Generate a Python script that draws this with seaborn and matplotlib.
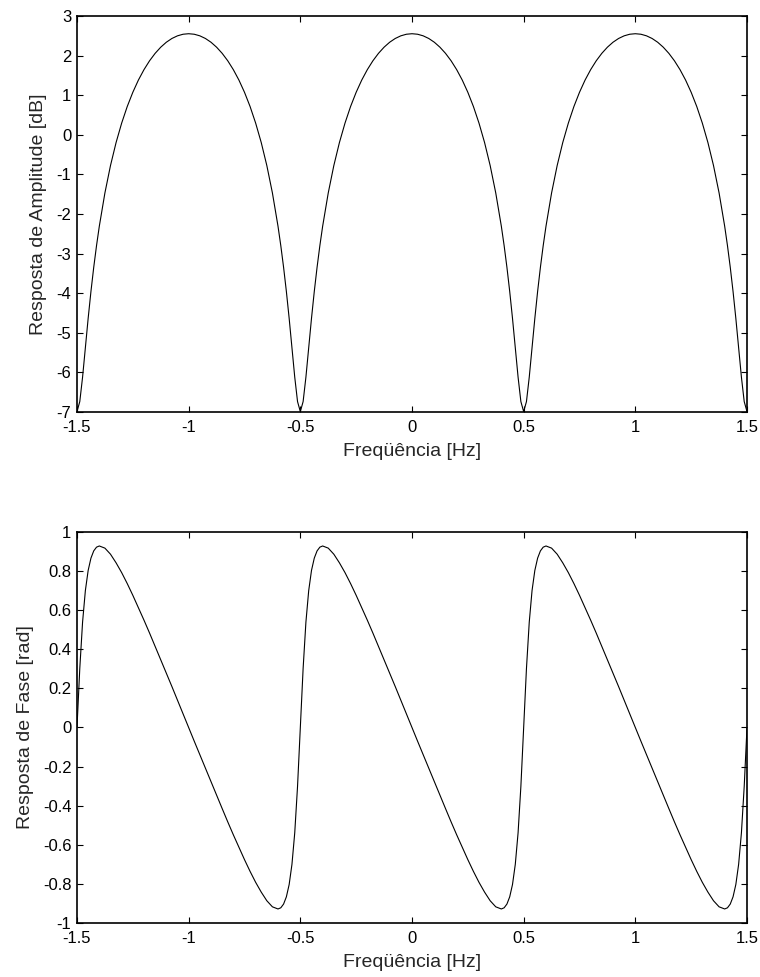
import numpy as np
import pandas as pd
import matplotlib
matplotlib.use("Agg")
import matplotlib.pyplot as plt
import seaborn as sns

# frequency samples read along the x axis (finer near the notches at half-integers)
freq = [
    -1.5, -1.4875, -1.475, -1.4625, -1.45, -1.4375, -1.425, -1.4125, -1.4, -1.375, -1.35, -1.325,
    -1.3, -1.275, -1.25, -1.225, -1.2, -1.175, -1.15, -1.125, -1.1, -1.075, -1.05, -1.025,
    -1.0, -0.975, -0.95, -0.925, -0.9, -0.875, -0.85, -0.825, -0.8, -0.775, -0.75, -0.725,
    -0.7, -0.675, -0.65, -0.625, -0.6, -0.5875, -0.575, -0.5625, -0.55, -0.5375, -0.525, -0.5125,
    -0.5, -0.4875, -0.475, -0.4625, -0.45, -0.4375, -0.425, -0.4125, -0.4, -0.375, -0.35, -0.325,
    -0.3, -0.275, -0.25, -0.225, -0.2, -0.175, -0.15, -0.125, -0.1, -0.075, -0.05, -0.025,
    0.0, 0.025, 0.05, 0.075, 0.1, 0.125, 0.15, 0.175, 0.2, 0.225, 0.25, 0.275,
    0.3, 0.325, 0.35, 0.375, 0.4, 0.4125, 0.425, 0.4375, 0.45, 0.4625, 0.475, 0.4875,
    0.5, 0.5125, 0.525, 0.5375, 0.55, 0.5625, 0.575, 0.5875, 0.6, 0.625, 0.65, 0.675,
    0.7, 0.725, 0.75, 0.775, 0.8, 0.825, 0.85, 0.875, 0.9, 0.925, 0.95, 0.975,
    1.0, 1.025, 1.05, 1.075, 1.1, 1.125, 1.15, 1.175, 1.2, 1.225, 1.25, 1.275,
    1.3, 1.325, 1.35, 1.375, 1.4, 1.4125, 1.425, 1.4375, 1.45, 1.4625, 1.475, 1.4875,
    1.5,
]

# amplitude response [dB]
amplitude = [
    -6.990, -6.737, -6.120, -5.373, -4.635, -3.955, -3.344, -2.797, -2.307, -1.468, -0.776, -0.196,
    0.295, 0.715, 1.074, 1.383, 1.646, 1.870, 2.058, 2.213, 2.338, 2.433, 2.500, 2.540,
    2.553, 2.540, 2.500, 2.433, 2.338, 2.213, 2.058, 1.870, 1.646, 1.383, 1.074, 0.715,
    0.295, -0.196, -0.776, -1.468, -2.307, -2.797, -3.344, -3.955, -4.635, -5.373, -6.120, -6.737,
    -6.990, -6.737, -6.120, -5.373, -4.635, -3.955, -3.344, -2.797, -2.307, -1.468, -0.776, -0.196,
    0.295, 0.715, 1.074, 1.383, 1.646, 1.870, 2.058, 2.213, 2.338, 2.433, 2.500, 2.540,
    2.553, 2.540, 2.500, 2.433, 2.338, 2.213, 2.058, 1.870, 1.646, 1.383, 1.074, 0.715,
    0.295, -0.196, -0.776, -1.468, -2.307, -2.797, -3.344, -3.955, -4.635, -5.373, -6.120, -6.737,
    -6.990, -6.737, -6.120, -5.373, -4.635, -3.955, -3.344, -2.797, -2.307, -1.468, -0.776, -0.196,
    0.295, 0.715, 1.074, 1.383, 1.646, 1.870, 2.058, 2.213, 2.338, 2.433, 2.500, 2.540,
    2.553, 2.540, 2.500, 2.433, 2.338, 2.213, 2.058, 1.870, 1.646, 1.383, 1.074, 0.715,
    0.295, -0.196, -0.776, -1.468, -2.307, -2.797, -3.344, -3.955, -4.635, -5.373, -6.120, -6.737,
    -6.990,
]

# phase response [rad]
phase = [
    0.000, 0.301, 0.538, 0.699, 0.802, 0.865, 0.902, 0.921, 0.927, 0.916, 0.885, 0.841,
    0.791, 0.735, 0.675, 0.612, 0.548, 0.482, 0.414, 0.347, 0.278, 0.209, 0.139, 0.070,
    0.000, -0.070, -0.139, -0.209, -0.278, -0.347, -0.414, -0.482, -0.548, -0.612, -0.675, -0.735,
    -0.791, -0.841, -0.885, -0.916, -0.927, -0.921, -0.902, -0.865, -0.802, -0.699, -0.538, -0.301,
    0.000, 0.301, 0.538, 0.699, 0.802, 0.865, 0.902, 0.921, 0.927, 0.916, 0.885, 0.841,
    0.791, 0.735, 0.675, 0.612, 0.548, 0.482, 0.414, 0.347, 0.278, 0.209, 0.139, 0.070,
    0.000, -0.070, -0.139, -0.209, -0.278, -0.347, -0.414, -0.482, -0.548, -0.612, -0.675, -0.735,
    -0.791, -0.841, -0.885, -0.916, -0.927, -0.921, -0.902, -0.865, -0.802, -0.699, -0.538, -0.301,
    0.000, 0.301, 0.538, 0.699, 0.802, 0.865, 0.902, 0.921, 0.927, 0.916, 0.885, 0.841,
    0.791, 0.735, 0.675, 0.612, 0.548, 0.482, 0.414, 0.347, 0.278, 0.209, 0.139, 0.070,
    0.000, -0.070, -0.139, -0.209, -0.278, -0.347, -0.414, -0.482, -0.548, -0.612, -0.675, -0.735,
    -0.791, -0.841, -0.885, -0.916, -0.927, -0.921, -0.902, -0.865, -0.802, -0.699, -0.538, -0.301,
    0.000,
]

x_ticks = [-1.5, -1, -0.5, 0, 0.5, 1, 1.5]
x_ticklabels = ["-1.5", "-1", "-0.5", "0", "0.5", "1", "1.5"]
amp_ticks = [3, 2, 1, 0, -1, -2, -3, -4, -5, -6, -7]
phase_ticks = [1, 0.8, 0.6, 0.4, 0.2, 0, -0.2, -0.4, -0.6, -0.8, -1]
phase_ticklabels = ["1", "0.8", "0.6", "0.4", "0.2", "0", "-0.2", "-0.4", "-0.6", "-0.8", "-1"]

df = pd.DataFrame({"freq": freq, "amp": amplitude, "phase": phase})

sns.set_style("ticks")
plt.rcParams["font.family"] = ["Liberation Sans", "DejaVu Sans"]
plt.rcParams["axes.unicode_minus"] = False

fig = plt.figure(figsize=(7.6, 9.77), dpi=100)
ax1 = fig.add_axes([0.1013, 0.5783, 0.8816, 0.4053])
ax2 = fig.add_axes([0.1013, 0.0550, 0.8816, 0.4008])

sns.lineplot(data=df, x="freq", y="amp", ax=ax1, color="black", linewidth=0.8, sort=False)
sns.lineplot(data=df, x="freq", y="phase", ax=ax2, color="black", linewidth=0.8, sort=False)

for ax in (ax1, ax2):
    ax.set_xlim(-1.5, 1.5)
    ax.set_xticks(x_ticks)
    ax.set_xticklabels(x_ticklabels)
    ax.set_xlabel("Freqüência [Hz]", fontsize=14, labelpad=6)
    ax.tick_params(direction="in", length=4.5, width=0.8, top=True, right=True,
                   labelsize=12, colors="black")
    ax.tick_params(axis="x", pad=5.5)
    ax.tick_params(axis="y", pad=4)
    for s in ax.spines.values():
        s.set_visible(True)
        s.set_color("black")
        s.set_linewidth(1.2)

ax1.set_ylim(-7, 3)
ax1.set_yticks(amp_ticks)
ax1.set_yticklabels([str(t) for t in amp_ticks])
ax1.set_ylabel("Resposta de Amplitude [dB]", fontsize=14, labelpad=7)

ax2.set_ylim(-1, 1)
ax2.set_yticks(phase_ticks)
ax2.set_yticklabels(phase_ticklabels)
ax2.set_ylabel("Resposta de Fase [rad]", fontsize=14, labelpad=6)

fig.savefig("out.png", dpi=100)
